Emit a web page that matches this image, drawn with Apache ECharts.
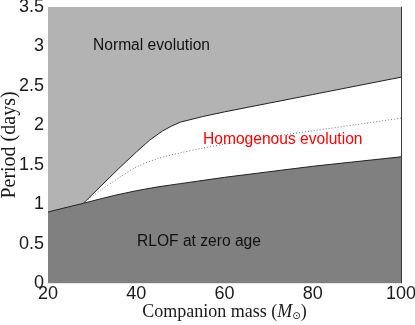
<!DOCTYPE html>
<html>
<head>
<meta charset="utf-8">
<script src="https://cdn.jsdelivr.net/npm/echarts@6/dist/echarts.min.js"></script>
<style>
  html, body { margin: 0; padding: 0; background: #fff; }
  #chart { width: 415px; height: 325px; }
</style>
</head>
<body>
<div id="chart"></div>
<script>
// axis ticks
const xTicks = [20, 40, 60, 80, 100]
const yTicks = [0, 0.5, 1, 1.5, 2, 2.5, 3, 3.5]

// lower boundary: Roche lobe overflow at zero age
const rlofMass = [20, 25, 28, 30, 35, 40, 45, 50, 60, 70, 80, 90, 100]
const rlofPeriod = [0.90, 0.97, 1.01, 1.04, 1.11, 1.17, 1.22, 1.26, 1.34, 1.41, 1.48, 1.54, 1.60]

// upper boundary: normal evolution above
const normalMass = [28, 32, 36, 40, 43, 46, 48, 50, 55, 60, 70, 80, 90, 100]
const normalPeriod = [1.01, 1.23, 1.45, 1.66, 1.81, 1.93, 1.99, 2.04, 2.11, 2.17, 2.28, 2.39, 2.50, 2.61]

// dotted line inside the homogenous region
const homMass = [28, 32, 36, 40, 45, 50, 55, 60, 70, 80, 90, 100]
const homPeriod = [1.01, 1.18, 1.33, 1.47, 1.58, 1.65, 1.71, 1.76, 1.85, 1.93, 2.01, 2.09]

const pairs = (xs, ys) => xs.map((x, i) => [x, ys[i]])

const chart = echarts.init(document.getElementById('chart'))

const labelFont = { fontFamily: 'Liberation Sans', fontSize: 18, color: '#1a1a1a' }
const serif = 'Liberation Serif'
const noteFont = '15.6px "Liberation Sans"'

const option = {
  animation: false,
  grid: {
    left: 48, right: 14, top: 7, bottom: 42,
    outerBoundsMode: 'none',
    show: true,
    backgroundColor: '#b3b3b3',
    borderWidth: 0
  },
  xAxis: [{
    type: 'value',
    min: xTicks[0],
    max: xTicks[xTicks.length - 1],
    interval: xTicks[1] - xTicks[0],
    axisLine: { show: false },
    axisTick: { show: false },
    splitLine: { show: false },
    axisLabel: { ...labelFont, margin: 2 },
    name: '{n|Companion mass (}{i|M}{s|⊙}{n|)}',
    nameLocation: 'middle',
    nameGap: 20,
    nameMoveOverlap: false,
    nameTextStyle: {
      rich: {
        n: { fontFamily: serif, fontSize: 18, color: '#1a1a1a' },
        i: { fontFamily: serif, fontSize: 18, fontStyle: 'italic', color: '#1a1a1a' },
        s: { fontFamily: 'DejaVu Sans', fontSize: 10, color: '#1a1a1a', verticalAlign: 'bottom', padding: [8, 0, 0, 0] }
      }
    }
  }, {
    type: 'value',
    position: 'top',
    min: xTicks[0],
    max: xTicks[xTicks.length - 1],
    axisLine: { show: true, lineStyle: { color: '#e6e6e6', width: 1 } },
    axisTick: { show: false },
    axisLabel: { show: false },
    splitLine: { show: false }
  }],
  yAxis: [{
    type: 'value',
    min: yTicks[0],
    max: yTicks[yTicks.length - 1],
    interval: yTicks[1] - yTicks[0],
    axisLine: { show: false },
    axisTick: { show: false },
    splitLine: { show: false },
    axisLabel: { ...labelFont, margin: 4 },
    name: 'Period (days)',
    nameLocation: 'middle',
    nameGap: 28,
    nameMoveOverlap: false,
    nameTextStyle: { fontFamily: serif, fontSize: 20, color: '#1a1a1a' }
  }, {
    type: 'value',
    position: 'right',
    min: yTicks[0],
    max: yTicks[yTicks.length - 1],
    axisLine: { show: true, lineStyle: { color: '#3a3a3a', width: 1 } },
    axisTick: { show: false },
    axisLabel: { show: false },
    splitLine: { show: false }
  }],
  series: [
    {
      type: 'line',
      data: pairs(normalMass, normalPeriod),
      symbol: 'none',
      lineStyle: { color: '#222', width: 1 },
      areaStyle: { color: '#ffffff', opacity: 1 }
    },
    {
      type: 'line',
      data: pairs(rlofMass, rlofPeriod),
      symbol: 'none',
      lineStyle: { color: '#222', width: 1 },
      areaStyle: { color: '#808080', opacity: 1 }
    },
    {
      type: 'line',
      data: pairs(homMass, homPeriod),
      symbol: 'none',
      smooth: 0.3,
      lineStyle: { color: '#777', width: 1, type: [1, 2] }
    }
  ],
  graphic: [
    { type: 'text', z: 100, x: 93, y: 46, style: { text: 'Normal evolution', font: noteFont, fill: '#111', verticalAlign: 'middle' } },
    { type: 'text', z: 100, x: 203, y: 140, style: { text: 'Homogenous evolution', font: noteFont, fill: '#ff0000', verticalAlign: 'middle' } },
    { type: 'text', z: 100, x: 137, y: 242, style: { text: 'RLOF at zero age', font: noteFont, fill: '#111', verticalAlign: 'middle' } }
  ]
}

chart.setOption(option)
</script>
</body>
</html>
